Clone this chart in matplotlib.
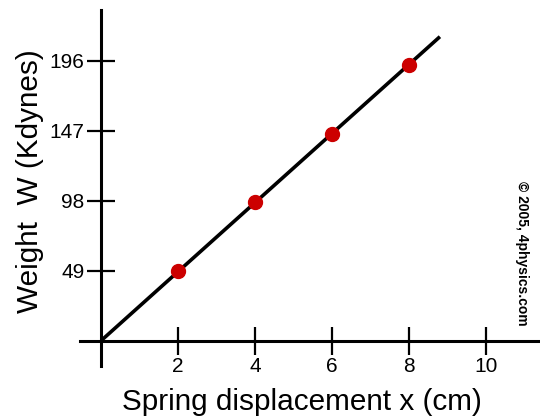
import matplotlib.pyplot as plt
import numpy as np

plt.rcParams['font.family'] = ['Liberation Sans', 'DejaVu Sans']

# measured points (cm, Kdynes)
disp = [2, 4, 6, 8]
weight = [49, 97, 145, 193]
# best fit line drawn through origin
fit_x = [0, 8.8]
fit_y = [0, 213]

x_ticks = [2, 4, 6, 8, 10]
y_ticks = [49, 98, 147, 196]

fig = plt.figure(figsize=(5.4, 4.19), dpi=100)
ax = fig.add_axes([80 / 540, 53 / 419, 460 / 540, 356 / 419])

ax.plot(fit_x, fit_y, color="black", lw=2.6, solid_capstyle="butt", zorder=3)
ax.plot(disp, weight, "o", color="#cc0000", ms=10, mec="#cc0000", zorder=4)

ax.set_xlim(-0.55, 11.4)
ax.set_ylim(-17.8, 231.7)

for s in ["top", "right"]:
    ax.spines[s].set_visible(False)
ax.spines["left"].set_position(("data", 0))
ax.spines["bottom"].set_position(("data", 0))
ax.spines["left"].set_linewidth(2.2)
ax.spines["bottom"].set_linewidth(2.2)

ax.set_xticks(x_ticks)
ax.set_yticks(y_ticks)
ax.tick_params(direction="inout", length=20, width=1.6, labelsize=15, colors="black")
ax.tick_params(axis="x", pad=1.5)
ax.tick_params(axis="y", pad=2)

fig.text(302 / 540, 1 - 402 / 419, "Spring displacement x (cm)", fontsize=21.4,
         ha="center", va="center")
fig.text(30 / 540, 1 - 181 / 419, "Weight  W (Kdynes)", fontsize=21.4,
         ha="center", va="center", rotation=90)
fig.text(522 / 540, 1 - 253 / 419, "\u00a9 2005, 4physics.com", fontsize=10,
         fontweight="bold", ha="center", va="center", rotation=-90)

plt.savefig("out.png", dpi=100)
